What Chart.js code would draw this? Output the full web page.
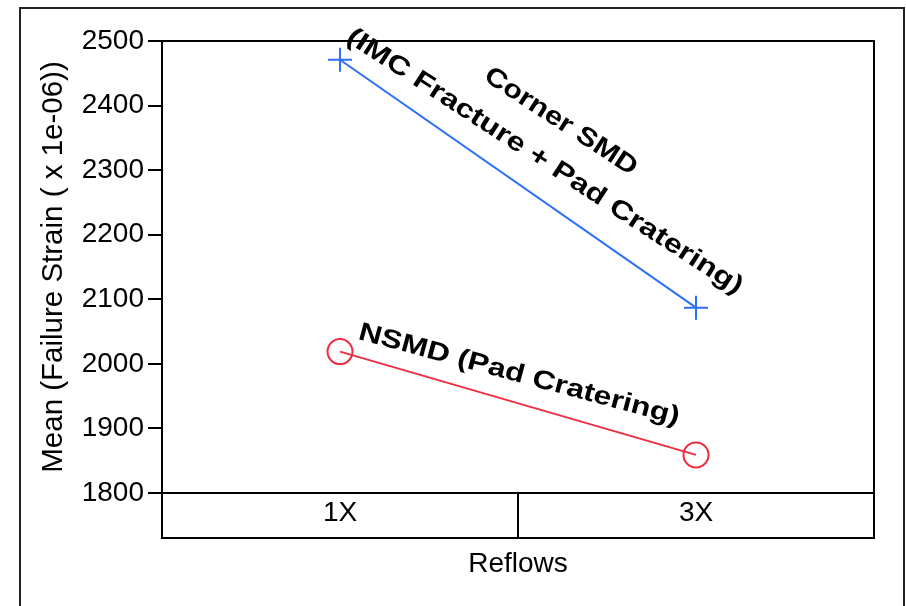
<!DOCTYPE html>
<html>
<head>
<meta charset="utf-8">
<script src="https://cdn.jsdelivr.net/npm/chart.js@4.4.0/dist/chart.umd.min.js"></script>
<style>
    html, body { margin: 0; padding: 0; background: #fff; }
</style>
</head>
<body>
<canvas id="chart" width="906" height="606"></canvas>
<script>
// Chart data
const reflows = ['1X', '3X'];
const cornerSmd = [2471, 2087];
const nsmd = [2019, 1859];
const yTicks = [1800, 1900, 2000, 2100, 2200, 2300, 2400, 2500];

const FONT = '"Liberation Sans", Arial, Helvetica, sans-serif';
const BLUE = 'rgb(45, 110, 250)';
const RED = 'rgb(238, 45, 65)';

// Labels written along the lines (x = category index, y = value)
const notes = [
    { text: 'Corner SMD', x: 0.62, y: 2375, angle: 33, stretch: 1.18 },
    { text: '(IMC Fracture + Pad Cratering)', x: 0.575, y: 2313, angle: 33, stretch: 1.24 },
    { text: 'NSMD (Pad Cratering)', x: 0.503, y: 1983, angle: 15, stretch: 1.22 }
];

// Frames, background and the rotated notes
const framePlugin = {
    id: 'frame',
    beforeDraw(chart) {
        const ctx = chart.ctx;
        ctx.save();
        ctx.fillStyle = '#fff';
        ctx.fillRect(0, 0, chart.width, chart.height);
        ctx.restore();
    },
    afterDraw(chart) {
        const ctx = chart.ctx;
        const area = chart.chartArea;
        const x = chart.scales.x;
        const y = chart.scales.y;
        ctx.save();

        // outer frame
        ctx.strokeStyle = '#222';
        ctx.lineWidth = 2;
        ctx.strokeRect(20, 8, 884, 700);

        // plot box and category box
        ctx.strokeStyle = '#000';
        ctx.strokeRect(area.left, area.top, area.right - area.left, area.bottom - area.top);
        ctx.strokeRect(area.left, area.bottom, area.right - area.left, 45);

        // notes
        ctx.fillStyle = '#000';
        ctx.font = 'bold 26px ' + FONT;
        ctx.textAlign = 'center';
        ctx.textBaseline = 'middle';
        notes.forEach(n => {
            ctx.save();
            ctx.translate(x.getPixelForValue(n.x), y.getPixelForValue(n.y));
            ctx.rotate(n.angle * Math.PI / 180);
            ctx.scale(n.stretch, 1);
            ctx.fillText(n.text, 0, 0);
            ctx.restore();
        });
        ctx.restore();
    }
};

const ctx = document.getElementById('chart').getContext('2d');
const chart = new Chart(ctx, {
    type: 'line',
    data: {
        labels: reflows,
        datasets: [
            {
                label: 'Corner SMD',
                data: cornerSmd,
                borderColor: BLUE,
                backgroundColor: 'transparent',
                borderWidth: 2,
                pointStyle: 'cross',
                pointRadius: 12,
                pointBorderWidth: 2,
                pointBorderColor: BLUE,
                fill: false,
                tension: 0
            },
            {
                label: 'NSMD',
                data: nsmd,
                borderColor: RED,
                backgroundColor: 'transparent',
                borderWidth: 2,
                pointStyle: 'circle',
                pointRadius: 12.5,
                pointBorderWidth: 2,
                pointBorderColor: RED,
                pointBackgroundColor: 'transparent',
                fill: false,
                tension: 0
            }
        ]
    },
    options: {
        responsive: false,
        animation: false,
        devicePixelRatio: 1,
        layout: {
            padding: { left: 0, top: 41, right: 32, bottom: 0 }
        },
        plugins: {
            legend: { display: false },
            tooltip: { enabled: false }
        },
        scales: {
            x: {
                type: 'category',
                offset: true,
                afterFit: s => { s.height = 113; },
                grid: {
                    display: true,
                    offset: true,
                    drawOnChartArea: false,
                    drawTicks: true,
                    tickLength: 45,
                    color: '#000',
                    lineWidth: 2
                },
                border: { display: false },
                ticks: {
                    color: '#000',
                    padding: -42,
                    maxRotation: 0,
                    font: { family: FONT, size: 28 }
                },
                title: {
                    display: true,
                    text: 'Reflows',
                    color: '#000',
                    padding: { top: 0, bottom: 25 },
                    font: { family: FONT, size: 28 }
                }
            },
            y: {
                min: 1800,
                max: 2500,
                afterFit: s => { s.width = 162; },
                afterBuildTicks: s => { s.ticks = yTicks.map(v => ({ value: v })); },
                grid: {
                    display: true,
                    drawOnChartArea: false,
                    drawTicks: true,
                    tickLength: 14,
                    color: '#000',
                    lineWidth: 2
                },
                border: { display: false },
                ticks: {
                    color: '#000',
                    padding: 4,
                    font: { family: FONT, size: 28 },
                    callback: v => String(v)
                },
                title: {
                    display: true,
                    text: 'Mean (Failure Strain ( x 1e-06))',
                    color: '#000',
                    padding: { top: 36, bottom: 0 },
                    font: { family: FONT, size: 29.5 }
                }
            }
        }
    },
    plugins: [framePlugin]
});
</script>
</body>
</html>
